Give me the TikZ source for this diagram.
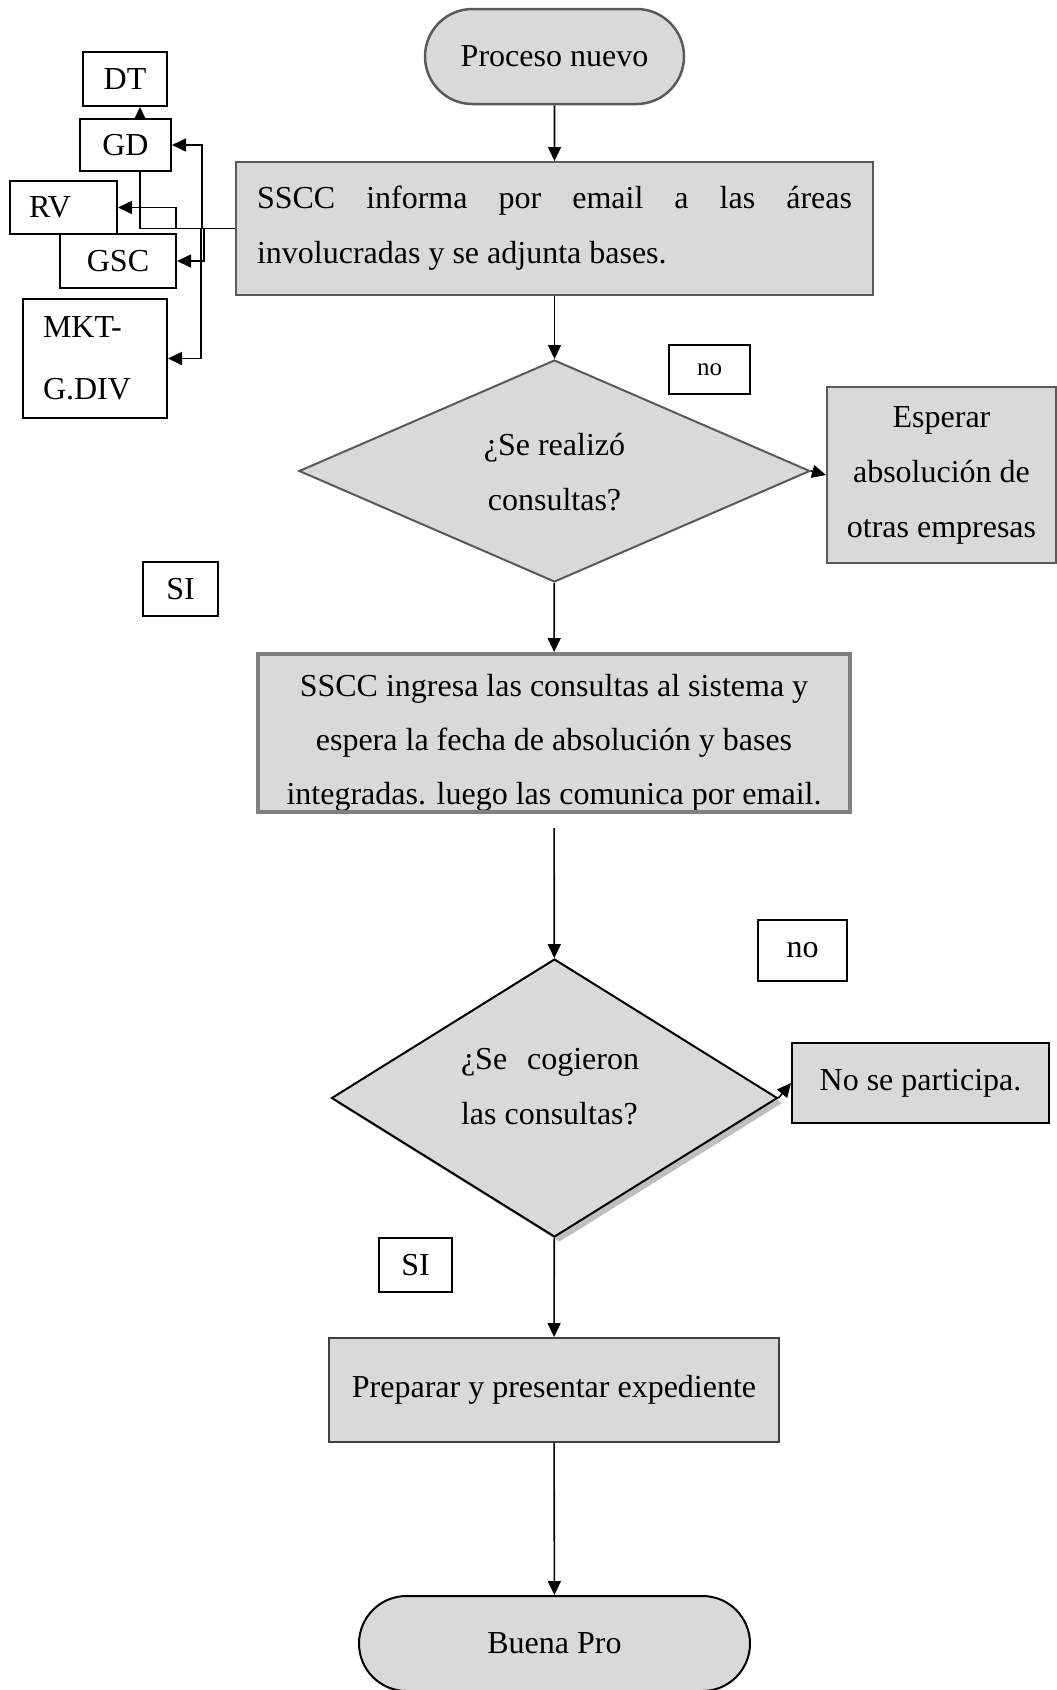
\documentclass[tikz,border=0pt]{standalone}
\usepackage{fontspec}
\setmainfont{Liberation Serif}
\usepackage{xcolor}
\usepackage{tikz}
\usetikzlibrary{shapes.geometric,shapes.misc,arrows.meta,shadows,backgrounds}
\usetikzlibrary{positioning}
\definecolor{boxgray}{RGB}{217,217,217}
\definecolor{edgegray}{RGB}{89,89,89}
\definecolor{midgray}{RGB}{128,128,128}
\tikzset{
	flecha/.style={-{Triangle[length=14pt,width=13pt]},line width=1.6pt},
	inicio/.style={rounded rectangle,draw=edgegray,fill=boxgray,line width=2.5pt,inner sep=0pt},
	caja/.style={rectangle,draw=edgegray,fill=boxgray,line width=2pt,inner sep=0pt},
	decision/.style={diamond,draw=edgegray,fill=boxgray,line width=2pt,inner sep=0pt},
	etiq/.style={rectangle,draw=black,fill=white,line width=2pt,inner sep=0pt}
}

\begin{document}
\begin{tikzpicture}[x=1pt,y=-1pt,every node/.style={font=\fontsize{32}{55}\selectfont}]
  \useasboundingbox (0,0) rectangle (1057,1690);

  \node[inicio, minimum width=259pt, minimum height=95pt] (pn) at (554.5,56.5) {Proceso nuevo};
  \node[caja, minimum width=637pt, minimum height=133pt, text width=595pt, align=justify] (s1) at (554.5,228.5)
    {SSCC informa por email a las áreas\linebreak involucradas y se adjunta bases.};

  \node[etiq, minimum width=84pt, minimum height=54pt] (dt) at (125,79) {DT};
  \node[etiq, minimum width=91pt, minimum height=52pt] (gd) at (125.5,145) {GD};
  \node[etiq, minimum width=107pt, minimum height=53pt, text width=69pt, align=left] (rv) at (63.5,207.5) {RV};
  \node[etiq, minimum width=116pt, minimum height=54pt] (gsc) at (118,261) {GSC};
  \node[etiq, minimum width=144pt, minimum height=119pt, text width=104pt, align=left,
    font=\fontsize{32}{62}\selectfont] (mkt) at (95,358.5) {MKT-\\G.DIV};

  \node[decision, minimum width=511pt, minimum height=222pt] (d1) at (554.5,471) {};
  \node[align=center] (t1) at (554.5,472) {¿Se realizó\\consultas?};
  \node[caja, minimum width=229pt, minimum height=176pt, align=center] (esp) at (941.5,475)
    {Esperar\\absolución de\\otras empresas};
  \node[etiq, minimum width=81pt, minimum height=49pt, font=\fontsize{25}{30}\selectfont] (no1) at (709.5,369.5) {no};
  \node[etiq, minimum width=75pt, minimum height=54pt] (si1) at (180.5,589) {SI};

  \node[caja, draw=midgray, line width=4pt, minimum width=592pt, minimum height=158pt,
    path picture={\node[align=center, font=\fontsize{32}{54}\selectfont] at ([yshift=-10pt]path picture bounding box.center)
      {SSCC ingresa las consultas al sistema y\\espera la fecha de absolución y bases\\integradas. luego las comunica por email.};}] (b2) at (554,733) {};

  \node[decision, draw=black, minimum width=446pt, minimum height=278pt,
    drop shadow={shadow xshift=5pt, shadow yshift=-5pt, fill=black!25, opacity=1}] (d2) at (554.5,1098) {};
  \node[text width=178pt, align=justify] (t2) at (550,1087) {¿Se cogieron\linebreak las consultas?};
  \node[etiq, minimum width=89pt, minimum height=61pt] (no2) at (802.5,950.5) {no};
  \node[caja, draw=black, minimum width=257pt, minimum height=80pt] (np) at (920.5,1083) {No se participa.};
  \node[etiq, minimum width=73pt, minimum height=54pt] (si2) at (415.5,1265) {SI};

  \node[caja, draw=black!75, minimum width=450pt, minimum height=104pt] (prep) at (554,1390) {Preparar y presentar expediente};
  \node[inicio, draw=black, line width=2pt, minimum width=391pt, minimum height=95pt] (bp) at (554.5,1643.5) {Buena Pro};

  \draw[flecha] (pn) -- (s1);
  \draw[flecha] (s1) -- (d1);
  \draw[flecha] (d1.east) -- (esp.west);
  \draw[flecha] (d1) -- (b2);
  \draw[flecha, shorten <=14pt] (b2) -- (d2);
  \draw[flecha] (d2.east) -- (np.west);
  \draw[flecha] (d2) -- (prep);
  \draw[flecha] (prep) -- (bp);

  \begin{scope}[on background layer]
    \draw[flecha] (s1.west) -| ([xshift=15pt]dt.south);
    \draw[flecha] (s1.west) -- ++(-33,0) |- (gd.east);
    \draw[flecha] (s1.west) -- ++(-59,0) |- (rv.east);
    \draw[flecha] (s1.west) -- ++(-31,0) |- (gsc.east);
    \draw[flecha] (s1.west) -- ++(-34,0) |- (mkt.east);
  \end{scope}
\end{tikzpicture}
\end{document}
